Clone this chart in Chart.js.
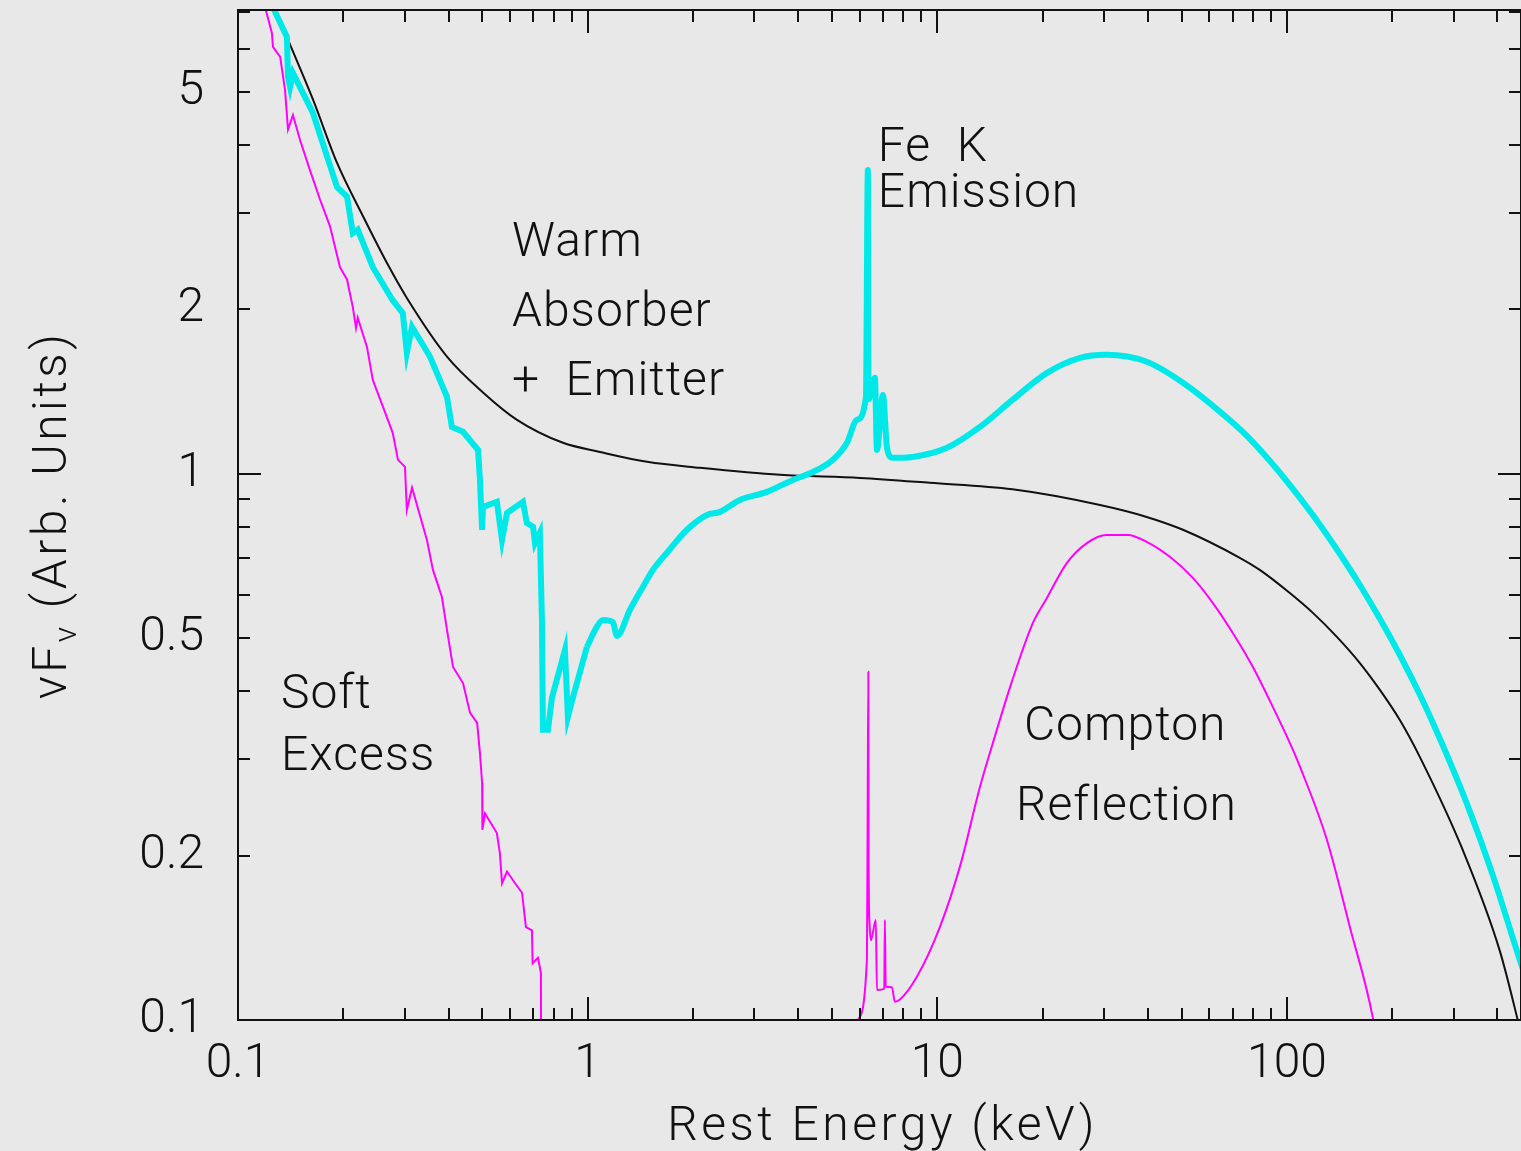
<!DOCTYPE html>
<html>
<head>
<meta charset="utf-8">
<script src="https://cdn.jsdelivr.net/npm/chart.js@4.4.1/dist/chart.umd.min.js"></script>
<style>
  html, body { margin: 0; padding: 0; background: #e8e8e8; }
  canvas { display: block; }
</style>
</head>
<body>
<canvas id="spec" width="1521" height="1151"></canvas>
<script>
// continuum (black)
const contEnergy = [0.128, 0.139, 0.164, 0.192, 0.228, 0.267, 0.304, 0.396, 0.502, 0.628, 0.850, 1.084, 1.479, 2.095, 3.55, 6.01, 9.52, 16.4, 29.2, 39.7, 50.4, 73.3, 83.6, 101.9, 118.6, 138.9, 161.6, 184.4, 210.3, 240, 318, 406, 457, 479];
const contFlux = [7.1, 6.24, 4.84, 3.71, 2.96, 2.43, 2.10, 1.64, 1.41, 1.256, 1.14, 1.097, 1.052, 1.026, 0.996, 0.983, 0.963, 0.937, 0.877, 0.834, 0.790, 0.702, 0.667, 0.605, 0.5565, 0.503, 0.4505, 0.4023, 0.3543, 0.303, 0.205, 0.134, 0.100, 0.088];

// total model: warm absorber, Fe K line and reflection hump (cyan)
const totalEnergy = [0.124, 0.138, 0.139, 0.1409, 0.1436, 0.1638, 0.192, 0.205, 0.213, 0.220, 0.243, 0.277, 0.296, 0.304, 0.3146, 0.354, 0.396, 0.409, 0.440, 0.486, 0.492, 0.499, 0.502, 0.550, 0.569, 0.588, 0.653, 0.670, 0.698, 0.707, 0.730, 0.740, 0.745, 0.770, 0.791, 0.861, 0.878, 0.908, 0.995,
  1.063, 1.106, 1.181, 1.213, 1.321, 1.439, 1.537, 1.686, 1.923, 2.194, 2.389, 2.726, 3.256, 3.864, 4.41, 5.03, 5.515, 5.89, 6.25, 6.33, 6.36, 6.63, 6.72, 6.99, 7.18, 7.46, 8.51, 10.65, 13.24, 16.4, 20.6, 25.6, 30.5, 39.7, 50.4, 70.0, 78.3, 93.5, 106.7, 124.2, 141.6, 161.6, 184.4, 210.3, 240, 270.1, 327, 388, 463, 495];
const totalFlux = [7.3, 6.31, 5.33, 5.11, 5.42, 4.58, 3.35, 3.22, 2.76, 2.80, 2.39, 2.08, 1.97, 1.666, 1.858, 1.64, 1.384, 1.219, 1.194, 1.106, 0.975, 0.790, 0.870, 0.889, 0.757, 0.848, 0.889, 0.813, 0.800, 0.747, 0.780, 0.540, 0.340, 0.340, 0.390, 0.476, 0.359, 0.390, 0.482,
  0.525, 0.540, 0.535, 0.505, 0.5636, 0.621, 0.667, 0.717, 0.790, 0.841, 0.852, 0.896, 0.927, 0.975, 1.008, 1.061, 1.14, 1.256, 1.384, 3.60, 1.37, 1.499, 1.106, 1.395, 1.116, 1.070, 1.074, 1.116, 1.219, 1.366, 1.531, 1.631, 1.652, 1.604, 1.468, 1.240, 1.159, 1.021, 0.919, 0.807, 0.714, 0.626, 0.543, 0.466, 0.394, 0.334, 0.249, 0.184, 0.129, 0.1135];

// soft excess (magenta, low energy)
const softEnergy = [0.118, 0.125, 0.1259, 0.132, 0.1363, 0.139, 0.1436, 0.1504, 0.1606, 0.1716, 0.1833, 0.1957, 0.205, 0.213, 0.2175, 0.220, 0.2338, 0.243, 0.2598, 0.277, 0.2868, 0.3003, 0.304, 0.3146, 0.347, 0.361, 0.383, 0.396, 0.412, 0.440, 0.461, 0.483, 0.492, 0.499, 0.500, 0.5085, 0.550, 0.561, 0.569, 0.588, 0.620, 0.649, 0.666, 0.693, 0.696, 0.721, 0.735, 0.736];
const softFlux = [7.38, 6.42, 6.05, 5.80, 5.05, 4.27, 4.54, 4.09, 3.60, 3.18, 2.84, 2.39, 2.27, 2.02, 1.851, 1.931, 1.708, 1.486, 1.327, 1.189, 1.061, 1.030, 0.859, 0.943, 0.757, 0.667, 0.595, 0.518, 0.443, 0.414, 0.365, 0.350, 0.308, 0.272, 0.223, 0.239, 0.220, 0.202, 0.178, 0.187, 0.178, 0.171, 0.148, 0.146, 0.127, 0.130, 0.122, 0.07];

// Compton reflection (magenta, high energy)
const reflEnergy = [5.81, 5.93, 6.29, 6.32, 6.35, 6.36, 6.40, 6.46, 6.67, 6.72, 7.05, 7.08, 7.12, 7.42, 7.56, 7.82, 8.74, 10.17, 11.6, 13.24, 14.42, 16.4, 18.77, 20.58, 23.48, 26.78, 30.5, 35.08, 39.7, 46.24, 53.8, 61.4, 70.0, 79.9, 91.1, 101.9, 108.9, 130, 151.3, 176, 182];
const reflFlux = [0.0845, 0.100, 0.129, 0.2325, 0.434, 0.2, 0.150, 0.140, 0.1525, 0.1135, 0.114, 0.1525, 0.115, 0.1148, 0.108, 0.109, 0.120, 0.148, 0.1907, 0.267, 0.3216, 0.4195, 0.5334, 0.5927, 0.687, 0.747, 0.773, 0.773, 0.751, 0.705, 0.645, 0.580, 0.5113, 0.443, 0.3744, 0.3216, 0.291, 0.214, 0.148, 0.101, 0.088];

const xTickLabels = [0.1, 1, 10, 100];
const yTickLabels = [0.1, 0.2, 0.5, 1, 2, 5];
const xMajorTicks = [0.1, 1, 10, 100];
const xMinorTicks = [0.2, 0.3, 0.4, 0.5, 0.6, 0.7, 0.8, 0.9, 2, 3, 4, 5, 6, 7, 8, 9, 20, 30, 40, 50, 60, 70, 80, 90, 200, 300, 400];
const yMajorTicks = [0.1, 1];
const yMinorTicks = [0.2, 0.3, 0.4, 0.5, 0.6, 0.7, 0.8, 0.9, 2, 3, 4, 5, 6, 7];

const notes = [
  { text: 'Warm', e: 0.6075, f: 2.507 },
  { text: 'Absorber', e: 0.6075, f: 1.867 },
  { text: '+\u2002Emitter', e: 0.6075, f: 1.395 },
  { text: 'Fe\u2002K', e: 6.76, f: 3.744 },
  { text: 'Emission', e: 6.76, f: 3.083 },
  { text: 'Soft', e: 0.1327, f: 0.3727 },
  { text: 'Excess', e: 0.1327, f: 0.287 },
  { text: 'Compton', e: 17.69, f: 0.326 },
  { text: 'Reflection', e: 16.78, f: 0.2325 }
];

const FAMILY = 'Roboto, "Liberation Sans", sans-serif';
const FONT = '300 48px ' + FAMILY;
const pts = (xs, ys) => xs.map((v, i) => ({ x: v, y: ys[i] }));

// absorption edges stay sharp below ~1 keV, the rest is a smooth curve
const split = totalEnergy.indexOf(0.995);
const totalPts = pts(totalEnergy, totalFlux);

const frame = {
  id: 'frame',
  afterDatasetsDraw(chart) {
    const { ctx, chartArea: a, scales: { x, y } } = chart;
    ctx.save();
    ctx.strokeStyle = '#111';
    ctx.lineWidth = 2;
    ctx.strokeRect(a.left, a.top, a.right - a.left, a.bottom - a.top);
    ctx.beginPath();
    const xt = (vals, len) => vals.forEach(v => {
      const px = Math.round(x.getPixelForValue(v));
      ctx.moveTo(px, a.bottom); ctx.lineTo(px, a.bottom - len);
      ctx.moveTo(px, a.top); ctx.lineTo(px, a.top + len);
    });
    const yt = (vals, len) => vals.forEach(v => {
      const py = Math.round(y.getPixelForValue(v));
      ctx.moveTo(a.left, py); ctx.lineTo(a.left + len, py);
      ctx.moveTo(a.right, py); ctx.lineTo(a.right - len, py);
    });
    xt(xMajorTicks, 23); xt(xMinorTicks, 12);
    yt(yMajorTicks, 23); yt(yMinorTicks, 12);
    ctx.stroke();

    ctx.fillStyle = '#111';
    ctx.font = FONT;
    ctx.textAlign = 'left';
    ctx.textBaseline = 'alphabetic';
    ctx.letterSpacing = '1px';
    notes.forEach(n => ctx.fillText(n.text, x.getPixelForValue(n.e), y.getPixelForValue(n.f)));

    // x axis title
    ctx.letterSpacing = '3.5px';
    ctx.textAlign = 'center';
    ctx.fillText('Rest Energy (keV)', (a.left + a.right) / 2 + 3, 1140);

    // y axis title with subscript nu
    ctx.textAlign = 'left';
    ctx.translate(66, (a.top + a.bottom) / 2);
    ctx.rotate(-Math.PI / 2);
    const small = '300 32px ' + FAMILY;
    const p1 = '\u03BDF', p2 = '\u03BD', p3 = ' (Arb. Units)';
    ctx.font = FONT; const w1 = ctx.measureText(p1).width, w3 = ctx.measureText(p3).width;
    ctx.font = small; const w2 = ctx.measureText(p2).width;
    let cx = -(w1 + w2 + w3) / 2;
    ctx.font = FONT; ctx.fillText(p1, cx, 0); cx += w1;
    ctx.font = small; ctx.fillText(p2, cx, 10); cx += w2;
    ctx.font = FONT; ctx.fillText(p3, cx, 0);
    ctx.restore();
  }
};

new Chart(document.getElementById('spec'), {
  type: 'line',
  data: {
    datasets: [
      { data: pts(softEnergy, softFlux), borderColor: '#ff00ff', borderWidth: 2 },
      { data: pts(reflEnergy, reflFlux), borderColor: '#ff00ff', borderWidth: 2, cubicInterpolationMode: 'monotone' },
      { data: totalPts.slice(0, split + 1), borderColor: '#00e8e8', borderWidth: 6 },
      { data: totalPts.slice(split), borderColor: '#00e8e8', borderWidth: 6, cubicInterpolationMode: 'monotone' },
      { data: pts(contEnergy, contFlux), borderColor: '#111', borderWidth: 2, cubicInterpolationMode: 'monotone' }
    ]
  },
  options: {
    responsive: false,
    animation: false,
    parsing: false,
    normalized: true,
    elements: { point: { radius: 0 }, line: { tension: 0, borderJoinStyle: 'miter', borderCapStyle: 'butt' } },
    layout: { padding: { top: 10, right: 0, left: 0, bottom: 0 } },
    plugins: { legend: { display: false }, tooltip: { enabled: false } },
    scales: {
      x: {
        type: 'logarithmic',
        min: 0.1,
        max: 467,
        grid: { display: false, drawTicks: false },
        border: { display: false },
        afterBuildTicks: s => { s.ticks = xTickLabels.map(v => ({ value: v })); },
        afterFit: s => { s.height = 131; s.paddingLeft = 0; s.paddingRight = 0; },
        ticks: {
          autoSkip: false, maxRotation: 0, padding: 16, color: '#111',
          font: { family: FAMILY, size: 48, weight: 300 },
          callback: v => String(v)
        }
      },
      y: {
        type: 'logarithmic',
        min: 0.1,
        max: 7.07,
        grid: { display: false, drawTicks: false },
        border: { display: false },
        afterBuildTicks: s => { s.ticks = yTickLabels.map(v => ({ value: v })); },
        afterFit: s => { s.width = 238; s.paddingTop = 0; s.paddingBottom = 0; },
        ticks: {
          autoSkip: false, padding: 34, color: '#111',
          font: { family: FAMILY, size: 48, weight: 300 },
          callback: v => String(v)
        }
      }
    }
  },
  plugins: [frame]
});
</script>
</body>
</html>
